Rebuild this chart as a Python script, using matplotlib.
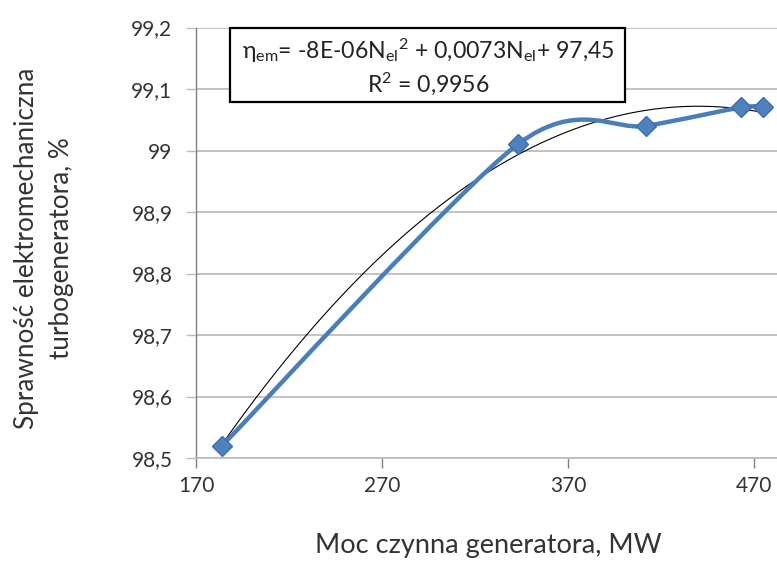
import matplotlib
matplotlib.use('Agg')
import matplotlib.pyplot as plt
import numpy as np
from matplotlib.path import Path
from matplotlib.patches import PathPatch, Rectangle
from matplotlib.ticker import FuncFormatter

plt.rcParams['font.family'] = ['Lato', 'DejaVu Sans']
plt.rcParams['mathtext.fontset'] = 'custom'
plt.rcParams['mathtext.rm'] = 'Lato'
plt.rcParams['mathtext.it'] = 'Lato:italic'

# moc czynna [MW] i sprawność [%]
moc = [184, 343, 412, 463, 475]
sprawnosc = [98.52, 99.01, 99.04, 99.07, 99.07]

x_ticks = [170, 270, 370, 470]
y_ticks = [98.5, 98.6, 98.7, 98.8, 98.9, 99.0, 99.1, 99.2]

blue = '#4A7EBB'
grid_c = '#BDBDBD'
text_c = '#333333'
W, H = 777, 562


def smooth_path(xs, ys, k=1 / 7):
    # wygładzona linia (krzywe Beziera z punktów sąsiednich)
    pts = np.column_stack([xs, ys]).astype(float)
    n = len(pts)
    verts = [pts[0]]
    codes = [Path.MOVETO]
    for i in range(n - 1):
        p0 = pts[i - 1] if i > 0 else pts[i]
        p1 = pts[i]
        p2 = pts[i + 1]
        p3 = pts[i + 2] if i + 2 < n else pts[i + 1]
        c1 = p1 + (p2 - p0) * k
        c2 = p2 - (p3 - p1) * k
        verts += [c1, c2, p2]
        codes += [Path.CURVE4] * 3
    return Path(verts, codes)


fig = plt.figure(figsize=(W / 100, H / 100), dpi=100)
ax = fig.add_axes([196 / W, 1 - 458 / H, 1 - 196 / W, (458 - 27.5) / H])

ax.set_xlim(170, 482.4)
ax.set_ylim(98.5, 99.2)
ax.set_xticks(x_ticks)
ax.set_yticks(y_ticks)
ax.yaxis.set_major_formatter(FuncFormatter(lambda v, p: ('%g' % round(v, 1)).replace('.', ',')))

ax.grid(axis='y', color=grid_c, linewidth=1.3)
ax.set_axisbelow(True)
for s in ['top', 'right']:
    ax.spines[s].set_visible(False)
ax.spines['bottom'].set_color(grid_c)
ax.spines['bottom'].set_linewidth(1.3)
ax.spines['left'].set_color('#7F7F7F')
ax.spines['left'].set_linewidth(1.0)
ax.tick_params(axis='y', length=7, width=1.0, color=grid_c, labelsize=15, pad=10, labelcolor=text_c)
ax.tick_params(axis='x', length=7, width=1.0, color='#7F7F7F', labelsize=15, pad=6, labelcolor=text_c)

# linia trendu wielomianowego 2. stopnia
coef = np.polyfit(moc, sprawnosc, 2)
xt = np.linspace(moc[0], moc[-1], 200)
ax.plot(xt, np.polyval(coef, xt), color='black', linewidth=0.8, zorder=3)

# seria pomiarowa
ax.add_patch(PathPatch(smooth_path(moc, sprawnosc), facecolor='none', edgecolor=blue,
                       linewidth=3.2, zorder=4, capstyle='round', joinstyle='round'))
ax.plot(moc, sprawnosc, linestyle='none', marker='D', markersize=10.5,
        color='#4F81BD', markeredgecolor='#3C6DAF', zorder=5, clip_on=False)

fig.text(488 / W, 1 - 546 / H, 'Moc czynna generatora, MW', ha='center', va='center',
         fontsize=19.5, color=text_c)
fig.text(44 / W, 1 - 248 / H, 'Sprawność elektromechaniczna\nturbogeneratora, %',
         rotation=90, ha='center', va='center', fontsize=18.8, color=text_c,
         multialignment='center', linespacing=1.45)

# ramka z równaniem trendu
fig.patches.append(Rectangle((230 / W, 1 - 102 / H), (625 - 230) / W, (102 - 28) / H,
                             transform=fig.transFigure, facecolor='white',
                             edgecolor='black', linewidth=1.6, zorder=6))
eq = ('η$_{\\mathrm{em}}$= -8E-06N$_{\\mathrm{el}}$$^{\\mathrm{2}}$ + 0,0073N$_{\\mathrm{el}}$+ 97,45\n'
      'R$^{\\mathrm{2}}$ = 0,9956')
fig.text(428 / W, 1 - 67 / H, eq, ha='center', va='center', fontsize=16.6,
         color='#222222', multialignment='center', linespacing=1.25, zorder=7)

fig.savefig('out.png', dpi=100)
